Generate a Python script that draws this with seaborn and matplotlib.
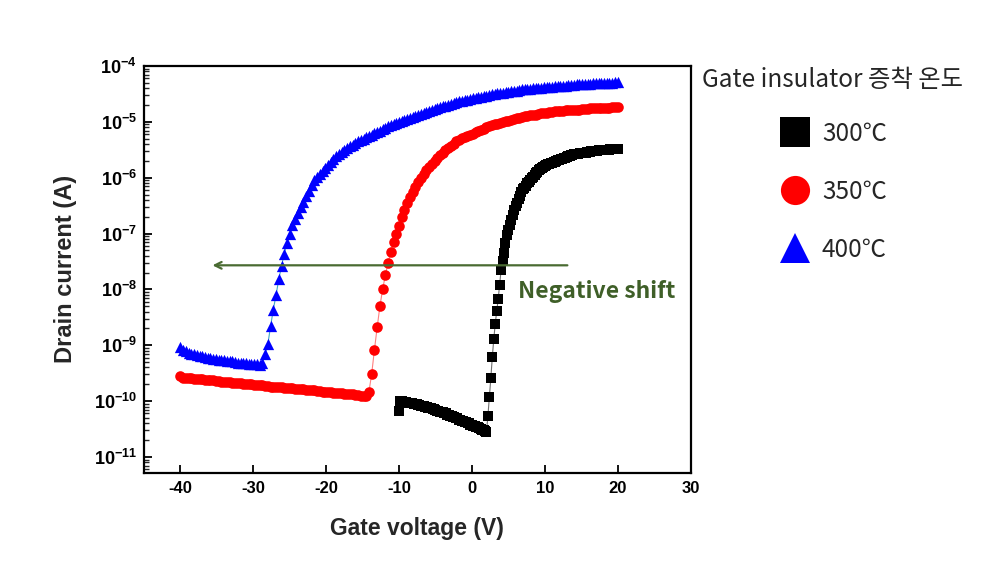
import numpy as np
import pandas as pd
import seaborn as sns
import matplotlib
matplotlib.use("Agg")
import matplotlib.pyplot as plt
from matplotlib.lines import Line2D

# ---------------- data (log10 of drain current in A) ----------------
v_400 = np.linspace(-40, 20, 161)
logI_400 = [
    -9.03, -9.08, -9.11, -9.13, -9.15, -9.16, -9.18, -9.19, -9.20, -9.21,
    -9.22, -9.23, -9.24, -9.25, -9.26, -9.27, -9.27, -9.28, -9.29, -9.29,
    -9.30, -9.31, -9.31, -9.32, -9.32, -9.33, -9.33, -9.34, -9.34, -9.35,
    -9.31,
    -9.16, -8.98, -8.66, -8.36, -8.10, -7.82, -7.58, -7.36, -7.17, -7.00,
    -6.84, -6.74, -6.63, -6.52, -6.43, -6.33, -6.23, -6.13, -6.05, -5.99,
    -5.94, -5.88, -5.82, -5.77, -5.71, -5.66, -5.62, -5.58, -5.54, -5.51,
    -5.47, -5.44, -5.41, -5.38, -5.35, -5.33, -5.30, -5.28, -5.25, -5.23,
    -5.20, -5.18, -5.16, -5.13, -5.11, -5.08, -5.06, -5.04, -5.02, -5.00,
    -4.98, -4.97, -4.95, -4.93, -4.91, -4.89, -4.88, -4.86, -4.84, -4.82,
    -4.80, -4.79, -4.77, -4.76, -4.74, -4.72, -4.71, -4.69, -4.68, -4.66,
    -4.64, -4.63, -4.62, -4.61, -4.60, -4.59, -4.58, -4.57, -4.56, -4.55,
    -4.54, -4.53, -4.52, -4.51, -4.50, -4.49, -4.48, -4.48, -4.47, -4.46,
    -4.45, -4.45, -4.44, -4.43, -4.42, -4.42, -4.41, -4.41, -4.40, -4.40,
    -4.39, -4.39, -4.38, -4.38, -4.37, -4.37, -4.36, -4.36, -4.35, -4.35,
    -4.35, -4.34, -4.34, -4.34, -4.33, -4.33, -4.33, -4.32, -4.32, -4.32,
    -4.31, -4.31, -4.31, -4.31, -4.30, -4.30, -4.30, -4.30, -4.29, -4.29,
]

v_350 = np.linspace(-40, 20, 161)
logI_350 = [
    -9.55,
    -9.58, -9.58, -9.59, -9.59, -9.60, -9.60, -9.61, -9.61, -9.62, -9.62,
    -9.63, -9.63, -9.64, -9.64, -9.65, -9.65, -9.66, -9.66, -9.67, -9.67,
    -9.68, -9.68, -9.69, -9.69, -9.70, -9.70, -9.71, -9.71, -9.72, -9.72,
    -9.73, -9.73, -9.74, -9.74, -9.74, -9.75, -9.75, -9.76, -9.76, -9.77,
    -9.77, -9.78, -9.78, -9.79, -9.79, -9.80, -9.80, -9.81, -9.81, -9.82,
    -9.82, -9.83, -9.83, -9.84, -9.84, -9.85, -9.85, -9.86, -9.86, -9.87,
    -9.87, -9.88, -9.88, -9.89, -9.89, -9.90, -9.90,
    -9.91, -9.83, -9.51, -9.08, -8.68, -8.30, -8.00, -7.74, -7.52, -7.33,
    -7.15, -7.00, -6.86, -6.71, -6.58, -6.46, -6.35, -6.25, -6.16, -6.08,
    -6.01, -5.94, -5.87, -5.81, -5.75, -5.70, -5.65, -5.60, -5.55, -5.51,
    -5.47, -5.43, -5.39, -5.35, -5.32, -5.29, -5.27, -5.25, -5.23, -5.21,
    -5.18, -5.16, -5.14, -5.12, -5.10, -5.08, -5.06, -5.04, -5.03, -5.02,
    -5.00, -4.99, -4.98, -4.96, -4.95, -4.94, -4.93, -4.91, -4.90, -4.89,
    -4.88, -4.87, -4.87, -4.86, -4.85, -4.84, -4.84, -4.83, -4.82, -4.81,
    -4.81, -4.80, -4.80, -4.79, -4.79, -4.79, -4.78, -4.78, -4.78, -4.77,
    -4.77, -4.77, -4.76, -4.76, -4.76, -4.76, -4.75, -4.75, -4.75, -4.75,
    -4.74, -4.74, -4.74,
]

v_300 = np.linspace(-10, 20, 151)
logI_300 = [
    -10.17,
    -9.99, -10.00, -10.01, -10.01, -10.02, -10.03, -10.03, -10.04, -10.04,
    -10.05, -10.05, -10.06, -10.07, -10.07, -10.08, -10.09, -10.09, -10.10, -10.11,
    -10.12, -10.12, -10.13, -10.14, -10.15, -10.16, -10.17, -10.18, -10.19, -10.20, -10.20,
    -10.21, -10.22, -10.24, -10.25, -10.26, -10.27, -10.28, -10.29, -10.30, -10.31, -10.33, -10.34,
    -10.35, -10.36, -10.37, -10.38, -10.39, -10.40, -10.42, -10.43, -10.44, -10.45, -10.46, -10.47,
    -10.49, -10.50, -10.51, -10.52, -10.54, -10.55,
    -10.26, -9.93, -9.58, -9.21, -8.89, -8.62, -8.39, -8.18, -7.92, -7.66,
    -7.49, -7.35, -7.17, -7.03, -6.93, -6.84, -6.75, -6.66,
    -6.58, -6.51, -6.45, -6.38, -6.32, -6.26, -6.21,
    -6.18, -6.14, -6.10, -6.07, -6.04, -6.01, -5.98, -5.95, -5.92,
    -5.89, -5.87, -5.85, -5.83, -5.81, -5.79, -5.78, -5.76, -5.75,
    -5.74, -5.73, -5.72, -5.71, -5.70, -5.69, -5.68, -5.67, -5.66, -5.65,
    -5.64, -5.63, -5.62, -5.61, -5.60, -5.59, -5.58, -5.58, -5.57,
    -5.57, -5.56, -5.56, -5.55, -5.55, -5.55, -5.54, -5.54, -5.54, -5.53,
    -5.53, -5.52, -5.52, -5.52, -5.51, -5.51, -5.51, -5.51, -5.50, -5.50,
    -5.50, -5.50, -5.49, -5.49, -5.49, -5.49, -5.49, -5.48,
]

series_labels = ["300\u2103", "350\u2103", "400\u2103"]
legend_title = "Gate insulator 증착 온도"
y_tick_exps = [-11, -10, -9, -8, -7, -6, -5, -4]
x_ticks = [-40, -30, -20, -10, 0, 10, 20, 30]

# ---------------- style ----------------
sns.set_style("ticks")
plt.rcParams["font.family"] = ["Liberation Sans", "DejaVu Sans"]
plt.rcParams["axes.unicode_minus"] = False
plt.rcParams["mathtext.fontset"] = "custom"
plt.rcParams["mathtext.rm"] = "Liberation Sans:bold"
plt.rcParams["mathtext.bf"] = "Liberation Sans:bold"
plt.rcParams["mathtext.it"] = "Liberation Sans:bold"

fig = plt.figure(figsize=(9.82, 5.67), dpi=100)
ax = fig.add_axes([0.1466, 0.1665, 0.7032 - 0.1466, 0.8836 - 0.1665])

dfs = [
    pd.DataFrame({"V": v_300, "I": 10 ** np.array(logI_300)}),
    pd.DataFrame({"V": v_350, "I": 10 ** np.array(logI_350)}),
    pd.DataFrame({"V": v_400, "I": 10 ** np.array(logI_400)}),
]
colors = ["#000000", "#ff0000", "#0000ff"]
line_colors = ["#707070", "#ff8080", "#40a8c8"]
markers = ["s", "o", "^"]
sizes = [46, 58, 66]

for df, c, lc, m, s in zip(dfs, colors, line_colors, markers, sizes):
    sns.lineplot(data=df, x="V", y="I", color=lc, lw=0.8, ax=ax,
                 estimator=None, sort=False, legend=False, zorder=2)
for df, c, lc, m, s in zip(dfs, colors, line_colors, markers, sizes):
    sns.scatterplot(data=df, x="V", y="I", color=c, marker=m, s=s,
                    linewidth=0, ax=ax, legend=False, zorder=3)

ax.set_yscale("log")
ax.set_xlim(-45, 30)
ax.set_ylim(10 ** -11.28, 1e-4)

ax.set_xticks(x_ticks)
ax.set_xticklabels([str(t) for t in x_ticks], fontsize=12, fontweight="bold")
ax.set_yticks([10.0 ** e for e in y_tick_exps])
ax.set_yticklabels([r"$\mathbf{10^{%d}}$" % e for e in y_tick_exps], fontsize=13)
ax.yaxis.set_minor_locator(matplotlib.ticker.LogLocator(base=10, subs=np.arange(2, 10), numticks=100))
ax.yaxis.set_minor_formatter(matplotlib.ticker.NullFormatter())
ax.xaxis.set_minor_locator(matplotlib.ticker.NullLocator())

ax.tick_params(axis="both", which="major", direction="in", length=6, width=1.3, pad=6, colors="black")
ax.tick_params(axis="y", which="minor", direction="in", length=3.5, width=1.0)
ax.tick_params(axis="y", which="major", pad=5)
for sp in ax.spines.values():
    sp.set_linewidth(1.6)
    sp.set_color("black")
    sp.set_visible(True)

ax.set_xlabel("Gate voltage (V)", fontsize=16.5, fontweight="bold", labelpad=15)
ax.set_ylabel("Drain current (A)", fontsize=17, fontweight="bold", labelpad=12)

# arrow + annotation
green = "#4a6b32"
ax.annotate("", xy=(-35.6, 2.7e-8), xytext=(13.1, 2.7e-8),
            arrowprops=dict(arrowstyle="->", color=green, lw=1.6, mutation_scale=12,
                            shrinkA=0, shrinkB=0), zorder=4)
ax.text(6.3, 0.92e-8, "Negative shift", color="#3f5f28", fontsize=16.5, fontweight="bold",
        ha="left", va="center", family=["Noto Sans CJK KR", "DejaVu Sans"])

# legend (title drawn as a separate text so its position can be set freely)
kfont = ["Noto Sans CJK KR", "DejaVu Sans"]
fig.text(0.715, 1 - 80 / 567, legend_title, ha="left", va="center",
         fontsize=17.5, family=kfont)
handles = [Line2D([0], [0], marker=m, color=c, linestyle="none", markersize=21, markeredgewidth=0)
           for m, c in zip(markers, colors)]
leg = ax.legend(handles, series_labels, loc="upper left",
                bbox_to_anchor=(783 / 982, 1 - 120.5 / 567), bbox_transform=fig.transFigure,
                frameon=False, handlelength=1.0, handletextpad=0.6, labelspacing=1.32,
                borderpad=0, borderaxespad=0,
                prop={"family": kfont, "size": 17.5})

fig.savefig("out.png", dpi=100)
